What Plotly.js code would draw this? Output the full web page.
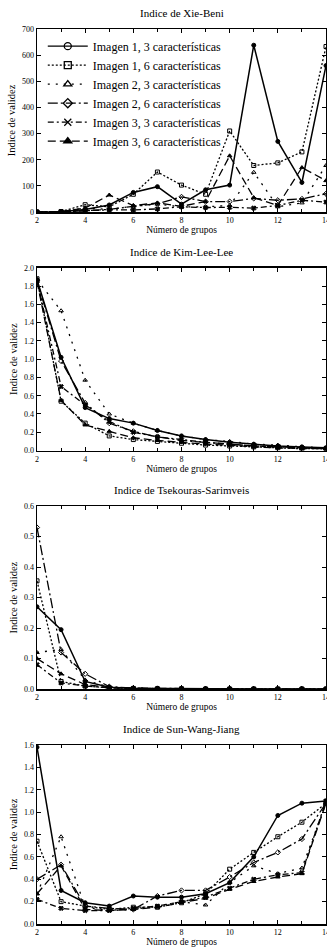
<!DOCTYPE html>
<html><head><meta charset="utf-8">
<script src="https://cdn.plot.ly/plotly-3.0.1.min.js"></script>
<style>html,body{margin:0;padding:0;background:#fff}#c{width:327px;height:948px}</style>
</head><body><div id="c"></div>
<script>
const grupos = [2,3,4,5,6,7,8,9,10,11,12,13,14];
const seriesNames = ["Imagen 1, 3 características","Imagen 1, 6 características","Imagen 2, 3 características","Imagen 2, 6 características","Imagen 3, 3 características","Imagen 3, 6 características"];
const panelTitles = ["Indice de Xie-Beni","Indice de Kim-Lee-Lee","Indice de Tsekouras-Sarimveis","Indice de Sun-Wang-Jiang"];

// Xie-Beni
const xb_i1c3 = [0,1,10,27,75,97,30,85,103,638,270,113,560];
const xb_i1c6 = [0,2,28,20,68,153,103,68,310,178,188,230,633];
const xb_i2c3 = [0,2,15,10,22,30,20,20,25,152,20,35,178];
const xb_i2c6 = [0,1,5,10,22,32,58,40,40,52,45,50,70];
const xb_i3c3 = [0,1,5,8,8,12,20,17,18,15,25,45,38];
const xb_i3c6 = [0,2,15,65,25,35,22,40,215,55,25,170,120];

// Kim-Lee-Lee
const kll_i1c3 = [1.87,1.02,0.47,0.35,0.30,0.22,0.16,0.12,0.09,0.07,0.05,0.04,0.03];
const kll_i1c6 = [1.88,0.54,0.30,0.16,0.12,0.10,0.08,0.06,0.05,0.04,0.03,0.02,0.02];
const kll_i2c3 = [1.87,1.53,0.77,0.40,0.30,0.22,0.16,0.12,0.10,0.07,0.06,0.04,0.03];
const kll_i2c6 = [1.86,0.98,0.52,0.30,0.21,0.15,0.11,0.09,0.07,0.05,0.04,0.03,0.02];
const kll_i3c3 = [1.86,0.70,0.50,0.32,0.20,0.15,0.12,0.09,0.07,0.05,0.04,0.03,0.02];
const kll_i3c6 = [1.85,0.55,0.28,0.21,0.14,0.11,0.09,0.07,0.06,0.04,0.03,0.02,0.02];

// Tsekouras-Sarimveis
const ts_i1c3 = [0.27,0.195,0.025,0.006,0.003,0.002,0.001,0.001,0.001,0,0,0,0];
const ts_i1c6 = [0.355,0.025,0.01,0.004,0.002,0.001,0.001,0,0,0,0,0,0];
const ts_i2c3 = [0.12,0.13,0.03,0.006,0.003,0.001,0.001,0,0,0,0,0,0];
const ts_i2c6 = [0.53,0.12,0.05,0.008,0.003,0.002,0.001,0,0,0,0,0,0];
const ts_i3c3 = [0.08,0.02,0.01,0.004,0.002,0.001,0,0,0,0,0,0,0];
const ts_i3c6 = [0.10,0.05,0.015,0.005,0.002,0.001,0,0,0,0,0,0,0];

// Sun-Wang-Jiang
const swj_i1c3 = [1.58,0.30,0.19,0.16,0.25,0.24,0.24,0.27,0.37,0.60,0.97,1.08,1.10];
const swj_i1c6 = [0.74,0.20,0.16,0.13,0.15,0.15,0.19,0.27,0.49,0.64,0.78,0.91,1.08];
const swj_i2c3 = [0.27,0.78,0.15,0.12,0.13,0.16,0.20,0.17,0.37,0.52,0.45,0.50,1.08];
const swj_i2c6 = [0.40,0.53,0.16,0.14,0.13,0.25,0.30,0.30,0.42,0.55,0.64,0.76,1.08];
const swj_i3c3 = [0.22,0.14,0.12,0.12,0.14,0.16,0.20,0.24,0.32,0.40,0.44,0.46,1.10];
const swj_i3c6 = [0.27,0.52,0.13,0.12,0.13,0.15,0.19,0.23,0.31,0.38,0.42,0.45,1.08];

const panels = [
  [xb_i1c3,xb_i1c6,xb_i2c3,xb_i2c6,xb_i3c3,xb_i3c6],
  [kll_i1c3,kll_i1c6,kll_i2c3,kll_i2c6,kll_i3c3,kll_i3c6],
  [ts_i1c3,ts_i1c6,ts_i2c3,ts_i2c6,ts_i3c3,ts_i3c6],
  [swj_i1c3,swj_i1c6,swj_i2c3,swj_i2c6,swj_i3c3,swj_i3c6]
];
const yRanges = [[0,700],[0,2],[0,0.6],[0,1.6]];
const yDticks = [100,0.2,0.1,0.2];
const yFormats = ["d",".1f",".1f",".1f"];

const dashes = ["solid","2px,2px","2px,6px","10px,3px,2px,3px","6px,3px,2px,3px","8px,4px"];
const symbols = ["circle","square-open","triangle-up-open","diamond-open","x","triangle-up"];
const legendSymbols = ["circle-open","square-open","triangle-up-open","diamond-open","x-thin-open","triangle-up"];

const FONT = "Liberation Serif, Times New Roman, serif";
const traces = [];
panels.forEach((p, pi) => {
  const xa = pi===0 ? 'x' : 'x'+(pi+1);
  const ya = pi===0 ? 'y' : 'y'+(pi+1);
  p.forEach((vals, si) => {
    traces.push({
      x: grupos, y: vals, xaxis: xa, yaxis: ya, type:'scatter', mode:'lines+markers',
      name: seriesNames[si], showlegend:false, cliponaxis:true,
      line:{color:'#000', width: si===0?1.5:1.3, dash: dashes[si]},
      marker:{symbol: symbols[si], size:4, color:'#000', line:{color:'#000', width:1}}
    });
  });
});
// legend entries
seriesNames.forEach((n, si) => {
  traces.push({
    x:[null], y:[null], xaxis:'x', yaxis:'y', type:'scatter', mode:'lines+markers', name:n,
    line:{color:'#000', width:1.3, dash: dashes[si]},
    marker:{symbol: legendSymbols[si], size:7, color:'#000', line:{color:'#000', width:1.3}}
  });
});

const domains = [[0.7955,1],[0.5290,0.7332],[0.2625,0.4668],[0,0.2000]];
const layout = {
  width:327, height:948, paper_bgcolor:'#fff', plot_bgcolor:'#fff',
  margin:{l:37, r:1, t:29, b:24},
  font:{family:FONT, color:'#000', size:8},
  showlegend:true,
  legend:{x:0.02, y:0.997, xanchor:'left', yanchor:'top', bgcolor:'rgba(0,0,0,0)', borderwidth:0,
          font:{family:FONT, size:12, color:'#000'}, tracegroupgap:0, itemwidth:40},
  annotations:[]
};
panelTitles.forEach((t, pi) => {
  const sfx = pi===0 ? '' : String(pi+1);
  layout['xaxis'+sfx] = {
    domain:[0,1], anchor:'y'+sfx, range:[2,14], tickvals:[2,4,6,8,10,12,14],
    ticks:'inside', ticklen:4, tickwidth:1, tickcolor:'#000', mirror:'allticks',
    showline:true, linecolor:'#000', linewidth:1.5, showgrid:false, zeroline:false,
    ticklabeloverflow:'allow',
    tickfont:{family:FONT, size:8}, minor:{dtick:1, ticks:'inside', ticklen:3, tickcolor:'#000'},
    title:{text:'Número de grupos', font:{family:FONT, size:9.5}, standoff:2}
  };
  layout['yaxis'+sfx] = {
    domain:domains[pi], anchor:'x'+sfx, range:yRanges[pi], dtick:yDticks[pi], tickformat:yFormats[pi],
    ticks:'inside', ticklen:4, tickwidth:1, tickcolor:'#000', mirror:'allticks',
    showline:true, linecolor:'#000', linewidth:1.5, showgrid:false, zeroline:false,
    tickfont:{family:FONT, size:8},
    title:{text:'Indice de validez', font:{family:FONT, size:10.5}, standoff:4}
  };
  const top = domains[pi][1];
  layout.annotations.push({
    text:t, xref:'paper', yref:'paper', x:0.5, y:top, yshift:8, xanchor:'center', yanchor:'bottom',
    showarrow:false, font:{family:FONT, size:11, color:'#000'}
  });
});
Plotly.newPlot('c', traces, layout, {staticPlot:true, displayModeBar:false});
</script>
</body></html>
